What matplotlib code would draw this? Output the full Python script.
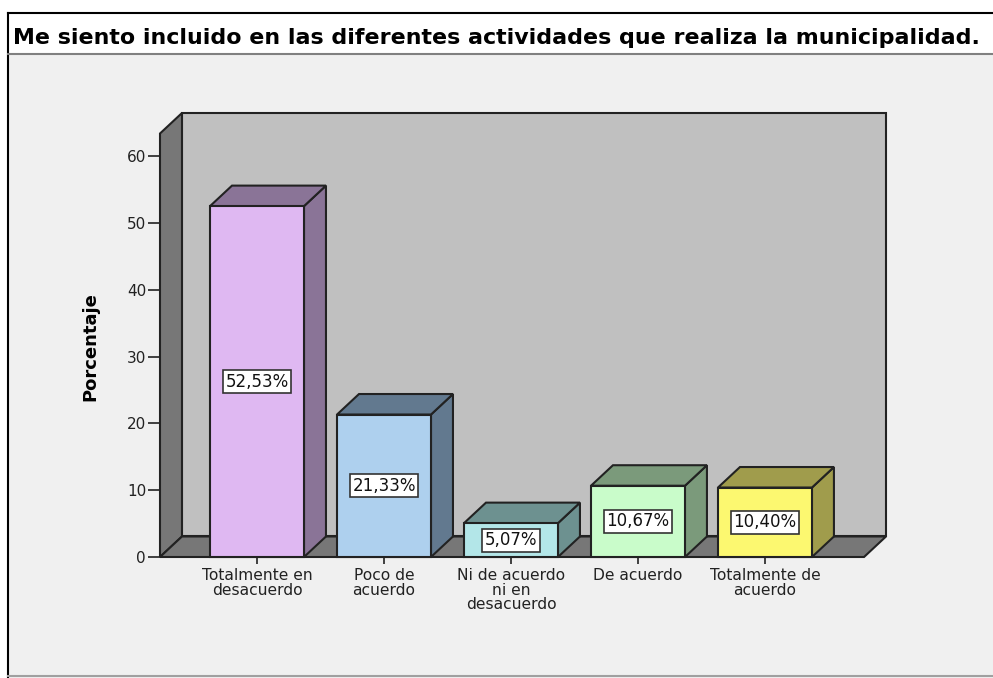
import numpy as np
import matplotlib
matplotlib.use("Agg")
import matplotlib.pyplot as plt
from matplotlib.patches import Polygon, Rectangle
from matplotlib.lines import Line2D

plt.rcParams['font.family'] = ['DejaVu Sans']

# data
title = "Me siento incluido en las diferentes actividades que realiza la municipalidad."
categories = ["Totalmente en\ndesacuerdo", "Poco de\nacuerdo", "Ni de acuerdo\nni en\ndesacuerdo",
              "De acuerdo", "Totalmente de\nacuerdo"]
values = [52.53, 21.33, 5.07, 10.67, 10.40]
labels = ["52,53%", "21,33%", "5,07%", "10,67%", "10,40%"]
front_colors = ["#dfb8f2", "#aed0ee", "#b3e6e8", "#c9fcca", "#fcf870"]
side_colors = ["#8a7497", "#62798f", "#6d9190", "#7b9a7b", "#a09c4c"]
yticks = [0, 10, 20, 30, 40, 50, 60]

W, H = 993, 678
fig = plt.figure(figsize=(W / 100, H / 100), dpi=100, facecolor="white")

def fx(px):
    return px / W

def fy(py):
    return 1 - py / H

# frame / panel background
fig.patches.append(Rectangle((fx(8), 0), 1 - fx(8), fy(54), transform=fig.transFigure,
                             facecolor="#f0f0f0", edgecolor="none", zorder=-5))
fig.lines.append(Line2D([fx(8), 1], [fy(13), fy(13)], transform=fig.transFigure, color="black", lw=1.5))
fig.lines.append(Line2D([fx(8), fx(8)], [0, fy(13)], transform=fig.transFigure, color="black", lw=1.5))
fig.lines.append(Line2D([fx(8), 1], [fy(54), fy(54)], transform=fig.transFigure, color="#808080", lw=1.5))
fig.lines.append(Line2D([fx(8), 1], [fy(676), fy(676)], transform=fig.transFigure, color="#a0a0a0", lw=1.5))

fig.text(fx(13), fy(38), title, fontsize=15.9, fontweight="bold", ha="left", va="center")

# plot area
ax = fig.add_axes([fx(160), fy(557), fx(886) - fx(160), fy(113) - fy(557)])
ax.set_facecolor("none")
ax.set_zorder(2)
x0, x1 = -0.764, 4.953
ymax = 66.47
ax.set_xlim(x0, x1)
ax.set_ylim(0, ymax)
dx, dy = 0.173, 3.07  # depth offset of the 3D look
hw = 0.37

ec = "#222222"
# back wall, left wall, floor
ax.add_patch(Polygon([(x0 + dx, dy), (x1, dy), (x1, ymax), (x0 + dx, ymax)],
                     facecolor="#c0c0c0", edgecolor=ec, lw=1.5, clip_on=False))
ax.add_patch(Polygon([(x0, 0), (x0 + dx, dy), (x0 + dx, ymax), (x0, ymax - dy)],
                     facecolor="#777777", edgecolor=ec, lw=1.5, clip_on=False))
ax.add_patch(Polygon([(x0, 0), (x1 - dx, 0), (x1, dy), (x0 + dx, dy)],
                     facecolor="#777777", edgecolor=ec, lw=1.5, clip_on=False))

for i, (v, fc, sc, lab) in enumerate(zip(values, front_colors, side_colors, labels)):
    l, r = i - hw, i + hw
    ax.add_patch(Polygon([(r, 0), (r + dx, dy), (r + dx, v + dy), (r, v)],
                         facecolor=sc, edgecolor=ec, lw=1.5, clip_on=False, zorder=3))
    ax.add_patch(Polygon([(l, v), (l + dx, v + dy), (r + dx, v + dy), (r, v)],
                         facecolor=sc, edgecolor=ec, lw=1.5, clip_on=False, zorder=3))
    ax.add_patch(Rectangle((l, 0), 2 * hw, v, facecolor=fc, edgecolor=ec, lw=1.5,
                           clip_on=False, zorder=4))
    ax.text(i, v / 2, lab, ha="center", va="center", fontsize=12, color="#111111", zorder=5,
            bbox=dict(boxstyle="square,pad=0.15", facecolor="white", edgecolor="#333333", lw=1.2))

for s in ax.spines.values():
    s.set_visible(False)

ax.set_yticks(yticks)
ax.set_yticklabels([str(t) for t in yticks])
ax.tick_params(axis="y", direction="out", length=9, width=1.2, pad=1, labelsize=11,
               colors="#222222")
ax.set_xticks(range(len(categories)))
ax.set_xticklabels(categories, linespacing=0.95)
ax.tick_params(axis="x", direction="out", length=5, width=1.2, pad=3, labelsize=11.2,
               colors="#222222")
ax.set_ylabel("Porcentaje", fontsize=13, fontweight="bold")
ax.yaxis.set_label_coords(-0.083, 0.473)

fig.savefig("out.png", dpi=100, facecolor=fig.get_facecolor())
